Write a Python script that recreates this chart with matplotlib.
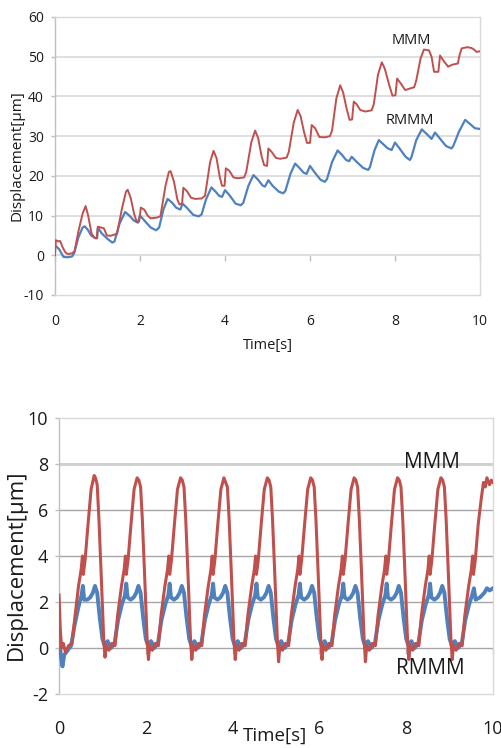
import matplotlib
matplotlib.use("Agg")
import matplotlib.pyplot as plt

plt.rcParams['font.family'] = ['Open Sans', 'DejaVu Sans']
plt.rcParams['axes.unicode_minus'] = False

# ---------------- top chart data (drift) ----------------
top_mmm_t = [0.00, 0.02, 0.08, 0.12, 0.18, 0.24, 0.30, 0.40, 0.46, 0.55, 0.65, 0.72, 0.78, 0.86, 0.92, 0.98,
             1.01, 1.08, 1.15, 1.22, 1.30, 1.40, 1.46, 1.58, 1.67, 1.71, 1.78, 1.86, 1.92, 1.98,
             2.02, 2.10, 2.18, 2.25, 2.40, 2.48, 2.60, 2.68, 2.72, 2.80, 2.88, 2.93, 2.99,
             3.02, 3.10, 3.20, 3.30, 3.45, 3.53, 3.65, 3.73, 3.80, 3.88, 3.93, 3.99,
             4.02, 4.10, 4.20, 4.30, 4.45, 4.50, 4.62, 4.71, 4.78, 4.86, 4.92, 4.99,
             5.02, 5.10, 5.20, 5.30, 5.45, 5.50, 5.62, 5.71, 5.78, 5.86, 5.93, 6.00,
             6.04, 6.12, 6.22, 6.35, 6.47, 6.52, 6.62, 6.71, 6.78, 6.86, 6.93, 6.99,
             7.03, 7.10, 7.18, 7.30, 7.45, 7.50, 7.60, 7.69, 7.76, 7.86, 7.94, 8.01,
             8.05, 8.12, 8.24, 8.35, 8.45, 8.50, 8.60, 8.68, 8.80, 8.86, 8.92, 9.02,
             9.06, 9.14, 9.25, 9.35, 9.48, 9.52, 9.57, 9.70, 9.80, 9.86, 9.92, 10.00]
top_mmm_v = [0.0, 3.8, 3.5, 3.6, 2.0, 0.8, 0.3, 0.5, 1.0, 6.0, 10.5, 12.4, 10.0, 5.5, 4.5, 4.3,
             7.2, 7.0, 6.8, 5.0, 4.9, 5.2, 5.5, 12.0, 16.0, 16.5, 14.5, 10.5, 8.5, 8.5,
             12.0, 11.5, 10.0, 9.3, 9.5, 9.8, 17.5, 21.0, 21.2, 18.5, 14.0, 12.8, 13.0,
             17.0, 16.2, 14.5, 14.2, 14.3, 15.0, 23.5, 26.3, 24.5, 19.5, 17.5, 17.5,
             21.9, 21.3, 19.6, 19.4, 19.6, 21.0, 28.5, 31.4, 29.5, 25.0, 22.7, 22.5,
             26.9, 26.0, 24.5, 24.3, 24.6, 26.0, 33.5, 36.6, 35.0, 31.0, 28.3, 28.3,
             32.8, 32.0, 29.8, 29.7, 30.0, 31.5, 39.5, 42.8, 41.0, 37.0, 34.1, 34.2,
             38.7, 38.0, 36.6, 36.2, 36.5, 38.0, 45.5, 48.6, 47.0, 43.0, 40.2, 40.3,
             44.5, 43.5, 41.6, 42.0, 42.3, 44.0, 49.5, 51.8, 51.6, 50.0, 46.2, 46.2,
             50.3, 49.0, 47.5, 48.0, 48.3, 50.5, 52.1, 52.4, 52.2, 51.8, 51.2, 51.4]

top_rmmm_t = [0.00, 0.05, 0.10, 0.15, 0.20, 0.30, 0.40, 0.45, 0.55, 0.65, 0.70, 0.78, 0.85, 0.95, 0.99,
              1.01, 1.10, 1.25, 1.35, 1.40, 1.52, 1.65, 1.75, 1.85, 1.95,
              2.00, 2.10, 2.25, 2.38, 2.45, 2.55, 2.65, 2.75, 2.85, 2.95,
              3.00, 3.10, 3.25, 3.38, 3.45, 3.55, 3.68, 3.78, 3.86, 3.93,
              4.00, 4.10, 4.25, 4.37, 4.43, 4.55, 4.67, 4.78, 4.88, 4.94,
              5.02, 5.12, 5.27, 5.37, 5.42, 5.54, 5.65, 5.75, 5.85, 5.92,
              6.00, 6.10, 6.25, 6.35, 6.40, 6.52, 6.65, 6.75, 6.85, 6.92,
              6.98, 7.10, 7.25, 7.37, 7.41, 7.52, 7.62, 7.72, 7.82, 7.92,
              8.00, 8.10, 8.25, 8.35, 8.39, 8.50, 8.63, 8.75, 8.86,
              8.94, 9.05, 9.20, 9.33, 9.37, 9.50, 9.65, 9.75, 9.88, 10.00]
top_rmmm_v = [2.5, 2.0, 1.5, 0.5, -0.4, -0.5, -0.3, 0.5, 4.5, 7.0, 7.3, 6.3, 5.0, 4.3, 4.3,
              7.0, 5.5, 4.0, 3.2, 3.5, 8.0, 10.9, 10.0, 8.8, 8.2,
              10.0, 8.8, 7.0, 6.3, 7.0, 11.5, 14.2, 13.3, 12.0, 11.5,
              13.0, 12.0, 10.2, 9.8, 10.3, 14.0, 17.1, 16.0, 15.0, 14.7,
              16.4, 15.2, 13.0, 12.6, 13.2, 17.5, 20.2, 19.0, 17.6, 17.3,
              18.9, 17.5, 16.0, 15.6, 16.2, 20.5, 23.1, 22.0, 20.8, 20.5,
              22.5, 21.0, 19.0, 18.5, 19.2, 23.5, 26.4, 25.3, 24.0, 23.7,
              24.8, 23.5, 22.0, 21.5, 22.2, 26.5, 29.0, 28.0, 27.0, 26.5,
              28.4, 27.0, 24.8, 24.0, 24.8, 29.0, 31.7, 30.5, 29.3,
              30.9, 29.5, 27.5, 26.9, 27.5, 31.0, 34.1, 33.2, 32.0, 31.8]

# ---------------- bottom chart data (periodic) ----------------
bot_mmm_t = [0.00, 0.03, 0.06, 0.10, 0.15, 0.22, 0.30, 0.37, 0.45, 0.51, 0.54, 0.56, 0.60, 0.67, 0.74, 0.81, 0.84, 0.88, 0.92, 0.97,
             1.03, 1.06, 1.09, 1.15, 1.22, 1.29, 1.35, 1.44, 1.50, 1.53, 1.55, 1.59, 1.66, 1.73, 1.80, 1.84, 1.88, 1.92, 1.97,
             2.03, 2.06, 2.09, 2.15, 2.22, 2.29, 2.35, 2.44, 2.50, 2.53, 2.55, 2.59, 2.66, 2.73, 2.80, 2.84, 2.88, 2.92, 2.97,
             3.03, 3.06, 3.09, 3.15, 3.22, 3.29, 3.35, 3.44, 3.50, 3.53, 3.55, 3.59, 3.66, 3.73, 3.80, 3.84, 3.88, 3.92, 3.97,
             4.03, 4.06, 4.09, 4.15, 4.22, 4.29, 4.35, 4.44, 4.50, 4.53, 4.55, 4.59, 4.66, 4.73, 4.80, 4.84, 4.88, 4.92, 4.97,
             5.03, 5.06, 5.09, 5.15, 5.22, 5.29, 5.35, 5.44, 5.50, 5.53, 5.55, 5.59, 5.66, 5.73, 5.80, 5.84, 5.88, 5.92, 5.97,
             6.03, 6.06, 6.09, 6.15, 6.22, 6.29, 6.35, 6.44, 6.50, 6.53, 6.55, 6.59, 6.66, 6.73, 6.80, 6.84, 6.88, 6.92, 6.97,
             7.03, 7.06, 7.09, 7.15, 7.22, 7.29, 7.35, 7.44, 7.50, 7.53, 7.55, 7.59, 7.66, 7.73, 7.80, 7.84, 7.88, 7.92, 7.97,
             8.03, 8.06, 8.09, 8.15, 8.22, 8.29, 8.35, 8.44, 8.50, 8.53, 8.55, 8.59, 8.66, 8.73, 8.80, 8.84, 8.88, 8.92, 8.97,
             9.03, 9.06, 9.09, 9.15, 9.22, 9.29, 9.35, 9.44, 9.50, 9.53, 9.55, 9.59, 9.66, 9.73, 9.78, 9.82, 9.86, 9.92, 9.96, 10.00]
bot_mmm_v = [2.3, 0.8, 0.0, 0.2, -0.2, 0.1, 0.2, 1.4, 2.7, 3.4, 4.0, 3.2, 3.8, 5.4, 6.9, 7.5, 7.4, 7.1, 5.6, 3.3,
             0.4, -0.4, 0.1, -0.1, 0.2, 0.1, 1.4, 2.7, 3.4, 4.0, 3.2, 3.8, 5.4, 6.9, 7.4, 7.3, 7.0, 5.6, 3.3,
             0.4, -0.5, 0.1, -0.1, 0.2, 0.1, 1.4, 2.7, 3.4, 4.0, 3.2, 3.8, 5.4, 6.9, 7.4, 7.3, 7.0, 5.6, 3.3,
             0.4, -0.5, 0.1, -0.1, 0.2, 0.1, 1.4, 2.7, 3.4, 4.0, 3.2, 3.8, 5.4, 6.9, 7.4, 7.2, 7.0, 5.6, 3.3,
             0.4, -0.5, 0.1, -0.1, 0.2, 0.1, 1.4, 2.7, 3.4, 4.0, 3.2, 3.8, 5.4, 6.9, 7.4, 7.3, 7.0, 5.6, 3.3,
             0.4, -0.6, 0.1, -0.1, 0.2, 0.1, 1.4, 2.7, 3.4, 4.0, 3.2, 3.8, 5.4, 6.9, 7.4, 7.3, 7.0, 5.6, 3.3,
             0.4, -0.5, 0.1, -0.1, 0.2, 0.1, 1.4, 2.7, 3.4, 4.0, 3.2, 3.8, 5.4, 6.9, 7.4, 7.3, 7.0, 5.6, 3.3,
             0.4, -0.6, 0.1, -0.1, 0.2, 0.1, 1.4, 2.7, 3.4, 4.0, 3.2, 3.8, 5.4, 6.9, 7.4, 7.3, 7.0, 5.6, 3.3,
             0.4, -0.5, 0.1, -0.1, 0.2, 0.1, 1.4, 2.7, 3.4, 4.0, 3.2, 3.8, 5.4, 6.9, 7.4, 7.3, 7.0, 5.6, 3.3,
             0.4, -0.5, 0.1, -0.1, 0.2, 0.1, 1.4, 2.7, 3.4, 4.0, 3.2, 3.8, 5.4, 6.5, 7.2, 7.0, 7.4, 7.1, 7.3, 7.2]

bot_rmmm_t = [0.00, 0.04, 0.08, 0.12, 0.20, 0.28, 0.36, 0.45, 0.52, 0.55, 0.58, 0.65, 0.72, 0.78, 0.83, 0.88, 0.94,
              1.00, 1.05, 1.12, 1.20, 1.28, 1.36, 1.45, 1.52, 1.55, 1.58, 1.65, 1.72, 1.78, 1.83, 1.88, 1.94,
              2.00, 2.05, 2.12, 2.20, 2.28, 2.36, 2.45, 2.52, 2.55, 2.58, 2.65, 2.72, 2.78, 2.83, 2.88, 2.94,
              3.00, 3.05, 3.12, 3.20, 3.28, 3.36, 3.45, 3.52, 3.55, 3.58, 3.65, 3.72, 3.78, 3.83, 3.88, 3.94,
              4.00, 4.05, 4.12, 4.20, 4.28, 4.36, 4.45, 4.52, 4.55, 4.58, 4.65, 4.72, 4.78, 4.83, 4.88, 4.94,
              5.00, 5.05, 5.12, 5.20, 5.28, 5.36, 5.45, 5.52, 5.55, 5.58, 5.65, 5.72, 5.78, 5.83, 5.88, 5.94,
              6.00, 6.05, 6.12, 6.20, 6.28, 6.36, 6.45, 6.52, 6.55, 6.58, 6.65, 6.72, 6.78, 6.83, 6.88, 6.94,
              7.00, 7.05, 7.12, 7.20, 7.28, 7.36, 7.45, 7.52, 7.55, 7.58, 7.65, 7.72, 7.78, 7.83, 7.88, 7.94,
              8.00, 8.05, 8.12, 8.20, 8.28, 8.36, 8.45, 8.52, 8.55, 8.58, 8.65, 8.72, 8.78, 8.83, 8.88, 8.94,
              9.00, 9.05, 9.12, 9.20, 9.28, 9.36, 9.45, 9.52, 9.56, 9.60, 9.70, 9.80, 9.86, 9.92, 10.00]
bot_rmmm_v = [0.9, -0.3, -0.8, -0.3, -0.1, 0.1, 1.0, 1.8, 2.3, 2.7, 2.1, 2.1, 2.2, 2.4, 2.7, 2.4, 1.3,
              0.4, 0.1, 0.3, 0.0, 0.2, 1.2, 1.9, 2.3, 2.8, 2.2, 2.1, 2.2, 2.4, 2.7, 2.4, 1.3,
              0.4, 0.1, 0.3, 0.0, 0.2, 1.2, 1.9, 2.3, 2.8, 2.2, 2.1, 2.2, 2.4, 2.7, 2.4, 1.3,
              0.4, 0.1, 0.3, 0.0, 0.2, 1.2, 1.9, 2.3, 2.8, 2.2, 2.1, 2.2, 2.4, 2.7, 2.4, 1.3,
              0.4, 0.1, 0.3, 0.0, 0.2, 1.2, 1.9, 2.3, 2.8, 2.2, 2.1, 2.2, 2.4, 2.7, 2.4, 1.3,
              0.4, 0.1, 0.3, 0.0, 0.2, 1.2, 1.9, 2.3, 2.8, 2.2, 2.1, 2.2, 2.4, 2.7, 2.4, 1.3,
              0.4, 0.1, 0.3, 0.0, 0.2, 1.2, 1.9, 2.3, 2.8, 2.2, 2.1, 2.2, 2.4, 2.7, 2.4, 1.3,
              0.4, 0.1, 0.3, 0.0, 0.2, 1.2, 1.9, 2.3, 2.8, 2.2, 2.1, 2.2, 2.4, 2.7, 2.4, 1.3,
              0.4, 0.1, 0.3, 0.0, 0.2, 1.2, 1.9, 2.3, 2.8, 2.2, 2.1, 2.2, 2.4, 2.7, 2.4, 1.3,
              0.4, 0.1, 0.3, 0.0, 0.2, 1.2, 1.9, 2.3, 2.6, 2.1, 2.2, 2.4, 2.6, 2.5, 2.6]

top_yticks = [-10, 0, 10, 20, 30, 40, 50, 60]
bot_yticks = [-2, 0, 2, 4, 6, 8, 10]
xticks = [0, 2, 4, 6, 8, 10]
series_names = ["MMM", "RMMM"]

RED = "#C0504D"
BLUE = "#4F81BD"
TXT = "#1a1a1a"

W, H = 502, 748
fig = plt.figure(figsize=(W / 100, H / 100), dpi=100)


def frac(l, t, r, b):
    return [l / W, 1 - b / H, (r - l) / W, (b - t) / H]


def style(ax, yticks, fs, xpad, grid_colors, grid_lw):
    ax.set_xlim(0, 10)
    ax.set_ylim(yticks[0], yticks[-1])
    ax.set_xticks(xticks)
    ax.set_yticks(yticks)
    for s in ax.spines.values():
        s.set_color("#D9D9D9")
        s.set_linewidth(1.0)
    ax.spines['left'].set_color("#BFBFBF")
    ax.tick_params(axis='x', length=0, pad=xpad, labelsize=fs, colors=TXT)
    ax.tick_params(axis='y', length=3, width=1, color="#BFBFBF", pad=5, labelsize=fs, labelcolor=TXT)
    for y, c, lw in zip(yticks[1:-1], grid_colors, grid_lw):
        ax.axhline(y, color=c, lw=lw, zorder=0.5)
    ax.axhline(yticks[-1], color="#D9D9D9", lw=1.2, zorder=0.5)
    frac0 = (0 - yticks[0]) / (yticks[-1] - yticks[0])
    sec = ax.secondary_xaxis(frac0)
    sec.set_xticks(xticks)
    sec.tick_params(axis='x', length=4, width=1, color="#BFBFBF", labelbottom=False)
    for s in sec.spines.values():
        s.set_visible(False)


def px_text(x, y, s, fs):
    # x, y in pixels measured from the top-left corner of the figure
    fig.text(x / W, 1 - y / H, s, fontsize=fs, color=TXT, ha='center', va='center')


# ---- top chart ----
ax1 = fig.add_axes(frac(55, 17, 480, 295))
ax1.plot(top_rmmm_t, top_rmmm_v, color=BLUE, lw=1.6, zorder=3)
ax1.plot(top_mmm_t, top_mmm_v, color=RED, lw=1.4, zorder=4)
style(ax1, top_yticks, 10, 14, ["#D9D9D9"] * 6, [1.2] * 6)
ax1.set_xlabel("Time[s]", fontsize=10.5, color=TXT, labelpad=6)
ax1.set_ylabel("Displacement[μm]", fontsize=11, color=TXT)
ax1.yaxis.label.set_va('center')
ax1.yaxis.set_label_coords((17 - 55) / 425, 0.5)
px_text(411, 40, series_names[0], 10.5)
px_text(410, 120, series_names[1], 10.5)

# ---- bottom chart ----
ax2 = fig.add_axes(frac(59, 418, 493, 694))
ax2.plot(bot_rmmm_t, bot_rmmm_v, color=BLUE, lw=2.8, zorder=3)
ax2.plot(bot_mmm_t, bot_mmm_v, color=RED, lw=2.2, zorder=4)
style(ax2, bot_yticks, 13, 19, ["#A6A6A6"] * 4 + ["#D0D0D0"], [1.0] * 4 + [2.2])
ax2.set_ylabel("Displacement[μm]", fontsize=16, color=TXT)
ax2.yaxis.label.set_va('center')
ax2.yaxis.set_label_coords((16 - 59) / 434, 0.47)
px_text(275, 736, "Time[s]", 13.5)
px_text(432, 463, series_names[0], 15)
px_text(430, 669, series_names[1], 15)

fig.savefig("out.png", dpi=100, facecolor="white")
